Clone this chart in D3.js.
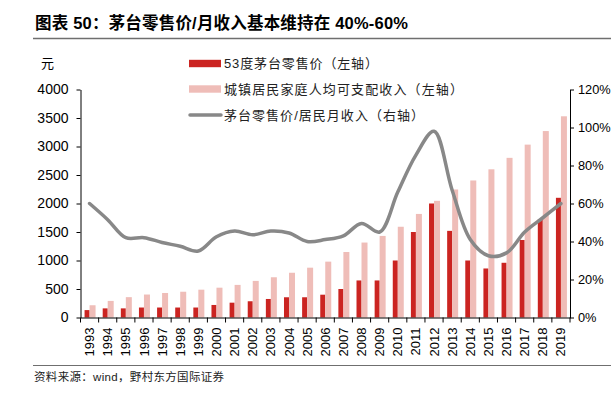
<!DOCTYPE html>
<html>
<head>
<meta charset="utf-8">
<script src="https://cdn.jsdelivr.net/npm/d3@7"></script>
<style>
  html, body { margin: 0; padding: 0; background: #fff; }
  svg { display: block; }
  text { font-family: "Liberation Sans", Arial, "Noto Sans CJK SC", sans-serif; }
  .cjk { font-family: "Liberation Sans", "Noto Sans CJK SC", sans-serif; }
</style>
</head>
<body>
<svg id="chart" width="611" height="396"></svg>
<script>
// ---- data ----
const years = ["1993","1994","1995","1996","1997","1998","1999","2000","2001","2002","2003","2004","2005","2006","2007","2008","2009","2010","2011","2012","2013","2014","2015","2016","2017","2018","2019"];
// 53度茅台零售价 (元)
const moutaiPrice = [130,160,160,175,175,175,175,220,260,285,325,355,355,400,500,650,650,1000,1500,2000,1520,1000,860,960,1360,1720,2100];
// 城镇居民家庭人均可支配收入 (元/月)
const monthlyIncome = [215,291,357,403,430,452,488,523,572,642,706,785,874,980,1149,1315,1431,1592,1817,2047,2246,2404,2600,2801,3033,3271,3530];
// 茅台零售价/居民月收入 (右轴)
const priceToIncome = [0.60,0.515,0.42,0.42,0.395,0.375,0.35,0.425,0.455,0.435,0.455,0.445,0.40,0.41,0.43,0.495,0.45,0.66,0.855,0.98,0.67,0.41,0.325,0.34,0.45,0.525,0.60];
const leftTicks = [0,500,1000,1500,2000,2500,3000,3500,4000];
const rightTicks = [0,0.2,0.4,0.6,0.8,1.0,1.2];
const legendLabels = ["53度茅台零售价（左轴）","城镇居民家庭人均可支配收入（左轴）","茅台零售价/居民月收入（右轴）"];
const titleText = "图表 50：茅台零售价/月收入基本维持在 40%-60%";
const sourceText = "资料来源：wind，野村东方国际证券";
const unitText = "元";

// ---- layout ----
const colors = { price: "#CB2421", income: "#EFBDB8", ratio: "#888888" };
const plot = { left: 80.5, right: 570, top: 89.5, bottom: 317.5 };

const svg = d3.select("#chart");
svg.append("rect").attr("width", 611).attr("height", 396).attr("fill", "#fff");

// title
svg.append("text").attr("class", "cjk").attr("x", 35).attr("y", 29)
  .attr("font-size", 16.5).attr("font-weight", "bold").attr("fill", "#000")
  .attr("textLength", 373).attr("lengthAdjust", "spacing")
  .text(titleText);
svg.append("line").attr("x1", 33).attr("x2", 611).attr("y1", 38.5).attr("y2", 38.5)
  .attr("stroke", "#6f6f6f").attr("stroke-width", 1.6);

// scales
const x = d3.scaleBand().domain(years).range([plot.left, plot.right]).padding(0);
const yL = d3.scaleLinear().domain([0, 4000]).range([plot.bottom, plot.top]);
const yR = d3.scaleLinear().domain([0, 1.2]).range([plot.bottom, plot.top]);

const bw = x.bandwidth();
const redW = 5, pinkW = 6;

// bars
svg.append("g").selectAll("rect").data(years).join("rect")
  .attr("x", (d) => x(d) + bw / 2 - redW)
  .attr("width", redW)
  .attr("y", (d, i) => yL(moutaiPrice[i]))
  .attr("height", (d, i) => yL(0) - yL(moutaiPrice[i]))
  .attr("fill", colors.price);
svg.append("g").selectAll("rect").data(years).join("rect")
  .attr("x", (d) => x(d) + bw / 2)
  .attr("width", pinkW)
  .attr("y", (d, i) => yL(monthlyIncome[i]))
  .attr("height", (d, i) => yL(0) - yL(monthlyIncome[i]))
  .attr("fill", colors.income);

// ratio line
const line = d3.line()
  .x((d, i) => x(years[i]) + bw / 2)
  .y((d) => yR(d))
  .curve(d3.curveCatmullRom.alpha(0.5));
svg.append("path").datum(priceToIncome)
  .attr("d", line).attr("fill", "none")
  .attr("stroke", colors.ratio).attr("stroke-width", 3.5)
  .attr("stroke-linejoin", "round").attr("stroke-linecap", "round");

// left axis
const gL = svg.append("g").attr("transform", `translate(${plot.left},0)`)
  .call(d3.axisLeft(yL).tickValues(leftTicks).tickSize(4).tickSizeOuter(0).tickPadding(8).tickFormat(d3.format("d")));
gL.selectAll("text").attr("font-size", 14).attr("fill", "#000");
gL.selectAll("line,path").attr("stroke", "#000");

// right axis
const gR = svg.append("g").attr("transform", `translate(${plot.right},0)`)
  .call(d3.axisRight(yR).tickValues(rightTicks).tickSize(4).tickSizeOuter(0).tickPadding(4).tickFormat(d3.format(".0%")));
gR.selectAll("text").attr("font-size", 12.8).attr("fill", "#000");
gR.selectAll("line,path").attr("stroke", "#000");

// bottom axis
const gB = svg.append("g").attr("transform", `translate(0,${plot.bottom})`)
  .call(d3.axisBottom(x).tickSize(0).tickSizeOuter(0));
gB.select("path").attr("stroke", "#000");
gB.selectAll("text")
  .attr("font-size", 13).attr("fill", "#000")
  .attr("transform", "rotate(-90)")
  .attr("x", -10).attr("y", 0).attr("dy", "0.35em")
  .attr("text-anchor", "end");
// tick marks at band boundaries
const boundaries = years.map((d) => x(d)).concat([plot.right]);
gB.selectAll("line.bt").data(boundaries).join("line").attr("class", "bt")
  .attr("x1", (d) => d).attr("x2", (d) => d).attr("y1", 0).attr("y2", 5)
  .attr("stroke", "#000");

// unit label
svg.append("text").attr("class", "cjk").attr("x", 41).attr("y", 68)
  .attr("font-size", 13).attr("fill", "#000").text(unitText);

// legend
const lg = svg.append("g");
const rowsY = [63.5, 89, 115];
const legendWidths = [154, 239, 200];
lg.append("rect").attr("x", 189).attr("y", rowsY[0] - 3.7).attr("width", 32).attr("height", 7.4).attr("fill", colors.price);
lg.append("rect").attr("x", 189).attr("y", rowsY[1] - 3.7).attr("width", 32).attr("height", 7.4).attr("fill", colors.income);
lg.append("line").attr("x1", 190).attr("x2", 221).attr("y1", rowsY[2]).attr("y2", rowsY[2])
  .attr("stroke", colors.ratio).attr("stroke-width", 3.5).attr("stroke-linecap", "round");
lg.selectAll("text").data(legendLabels).join("text").attr("class", "cjk")
  .attr("x", 224).attr("y", (d, i) => rowsY[i]).attr("dy", "0.36em")
  .attr("font-size", 13).attr("fill", "#222")
  .attr("textLength", (d, i) => legendWidths[i]).attr("lengthAdjust", "spacing")
  .text((d) => d);

// footer
svg.append("line").attr("x1", 33).attr("x2", 611).attr("y1", 365.5).attr("y2", 365.5)
  .attr("stroke", "#6f6f6f").attr("stroke-width", 1.2);
svg.append("text").attr("class", "cjk").attr("x", 34).attr("y", 377).attr("dy", "0.36em")
  .attr("font-size", 11.5).attr("fill", "#222")
  .attr("textLength", 190).attr("lengthAdjust", "spacing")
  .text(sourceText);
</script>
</body>
</html>
